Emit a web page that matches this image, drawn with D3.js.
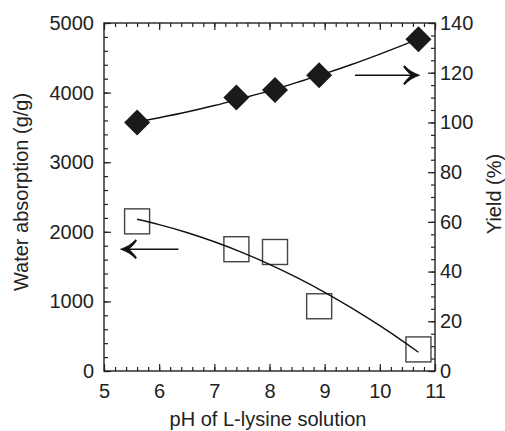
<!DOCTYPE html>
<html>
<head>
<meta charset="utf-8">
<script src="https://cdn.jsdelivr.net/npm/d3@7"></script>
<style>
  body { margin: 0; background: #fff; }
  #chart { width: 505px; height: 431px; }
  text { font-family: "Liberation Sans", Arial, sans-serif; fill: #222; }
</style>
</head>
<body>
<div id="chart"></div>
<script>
// pH of the L-lysine solution for each sample
const ph = [5.6, 7.4, 8.1, 8.9, 10.7];
// water absorption (g/g), left axis, open squares
const absorption = [2150, 1750, 1710, 930, 310];
// yield (%), right axis, filled diamonds
const yieldPct = [100, 110, 113, 119, 133.5];

// trend lines
const fitPh = [5.6, 6.0, 6.5, 7.0, 7.5, 8.0, 8.5, 9.0, 9.5, 10.0, 10.5, 10.7];
const fitAbsorption = [2180, 2103, 1990, 1857, 1705, 1533, 1341, 1131, 900, 651, 382, 269];
const fitYield = [100.2, 101.9, 104.2, 106.8, 109.7, 112.7, 116.1, 119.6, 123.4, 127.5, 131.8, 133.6];

const xTicks = [5, 6, 7, 8, 9, 10, 11];
const leftTicks = [0, 1000, 2000, 3000, 4000, 5000];
const rightTicks = [0, 20, 40, 60, 80, 100, 120, 140];

const W = 505, H = 431;
const m = { left: 104, right: 435, top: 23, bottom: 371 };

const svg = d3.select("#chart").append("svg")
    .attr("width", W)
    .attr("height", H);

const x = d3.scaleLinear().domain([5, 11]).range([m.left, m.right]);
const yL = d3.scaleLinear().domain([0, 5000]).range([m.bottom, m.top]);
const yR = d3.scaleLinear().domain([0, 140]).range([m.bottom, m.top]);

const FONT = 20;

function minor(lo, hi, step) {
    const out = [];
    for (let v = lo; v <= hi + 1e-9; v += step) out.push(+v.toFixed(4));
    return out;
}

function styleAxis(g) {
    g.select(".domain").remove();
    g.selectAll("line").attr("stroke", "#222").attr("stroke-width", 1.2);
    g.selectAll("text").style("font-size", FONT + "px").attr("fill", "#222");
}

// bottom axis
svg.append("g")
    .attr("transform", `translate(0,${m.bottom})`)
    .call(d3.axisBottom(x).tickValues(minor(5, 11, 0.2)).tickSize(-4).tickFormat(""))
    .call(styleAxis);
svg.append("g")
    .attr("transform", `translate(0,${m.bottom})`)
    .call(d3.axisBottom(x).tickValues(xTicks).tickSize(-7).tickPadding(13).tickFormat(d3.format("d")))
    .call(styleAxis);

// top axis (ticks only)
svg.append("g")
    .attr("transform", `translate(0,${m.top})`)
    .call(d3.axisTop(x).tickValues(minor(5, 11, 0.2)).tickSize(-4).tickFormat(""))
    .call(styleAxis);
svg.append("g")
    .attr("transform", `translate(0,${m.top})`)
    .call(d3.axisTop(x).tickValues(xTicks).tickSize(-7).tickFormat(""))
    .call(styleAxis);

// left axis
svg.append("g")
    .attr("transform", `translate(${m.left},0)`)
    .call(d3.axisLeft(yL).tickValues(minor(0, 5000, 200)).tickSize(-4).tickFormat(""))
    .call(styleAxis);
svg.append("g")
    .attr("transform", `translate(${m.left},0)`)
    .call(d3.axisLeft(yL).tickValues(leftTicks).tickSize(-7).tickPadding(10).tickFormat(d3.format("d")))
    .call(styleAxis);

// right axis
svg.append("g")
    .attr("transform", `translate(${m.right},0)`)
    .call(d3.axisRight(yR).tickValues(minor(0, 140, 5)).tickSize(-4).tickFormat(""))
    .call(styleAxis);
svg.append("g")
    .attr("transform", `translate(${m.right},0)`)
    .call(d3.axisRight(yR).tickValues(rightTicks).tickSize(-7).tickPadding(5).tickFormat(d3.format("d")))
    .call(styleAxis);

// frame
svg.append("rect")
    .attr("x", m.left).attr("y", m.top)
    .attr("width", m.right - m.left).attr("height", m.bottom - m.top)
    .attr("fill", "none").attr("stroke", "#222").attr("stroke-width", 1.4);

// trend lines
const fitLineL = d3.line().x((d, i) => x(fitPh[i])).y(d => yL(d)).curve(d3.curveMonotoneX);
const fitLineR = d3.line().x((d, i) => x(fitPh[i])).y(d => yR(d)).curve(d3.curveMonotoneX);

svg.append("path")
    .attr("d", fitLineR(fitYield))
    .attr("fill", "none").attr("stroke", "#111").attr("stroke-width", 1.4);

// squares (absorption)
const SQ = 25;
svg.selectAll("rect.sq").data(absorption).enter().append("rect")
    .attr("class", "sq")
    .attr("x", (d, i) => x(ph[i]) - SQ / 2)
    .attr("y", d => yL(d) - SQ / 2)
    .attr("width", SQ).attr("height", SQ)
    .attr("fill", "none").attr("stroke", "#444").attr("stroke-width", 1.4);

svg.append("path")
    .attr("d", fitLineL(fitAbsorption))
    .attr("fill", "none").attr("stroke", "#111").attr("stroke-width", 1.4);

// diamonds (yield)
const DI = 13;
svg.selectAll("path.di").data(yieldPct).enter().append("path")
    .attr("class", "di")
    .attr("d", (d, i) => {
        const cx = x(ph[i]), cy = yR(d);
        return `M${cx},${cy - DI}L${cx + DI},${cy}L${cx},${cy + DI}L${cx - DI},${cy}Z`;
    })
    .attr("fill", "#1a1a1a");

// arrows pointing to the axis each series belongs to
function arrow(x1, x2, y, dir) {
    const g = svg.append("g");
    g.append("line")
        .attr("x1", x1).attr("x2", x2 - dir * 2).attr("y1", y).attr("y2", y)
        .attr("stroke", "#111").attr("stroke-width", 1.4);
    g.append("path")
        .attr("transform", `translate(${x2},${y}) scale(${-dir},1)`)
        .attr("d", "M0,0 C6,-2 11,-5 15,-9.5 L16,-8.5 C13,-4 10,-1.5 8,0 C10,1.5 13,4 16,8.5 L15,9.5 C11,5 6,2 0,0 Z")
        .attr("fill", "#111").attr("stroke", "#111").attr("stroke-width", 0.8);
}
arrow(x(6.35), x(5.3), yL(1750), -1);
arrow(x(9.55), x(10.72), yR(119), 1);

// axis titles
svg.append("text")
    .attr("transform", `translate(28,192) rotate(-90)`)
    .attr("text-anchor", "middle")
    .style("font-size", FONT + "px")
    .text("Water absorption (g/g)");

svg.append("text")
    .attr("transform", `translate(501,194) rotate(-90)`)
    .attr("text-anchor", "middle")
    .style("font-size", FONT + "px")
    .text("Yield (%)");

svg.append("text")
    .attr("x", 268).attr("y", 426)
    .attr("text-anchor", "middle")
    .style("font-size", FONT + "px")
    .text("pH of L-lysine solution");
</script>
</body>
</html>
